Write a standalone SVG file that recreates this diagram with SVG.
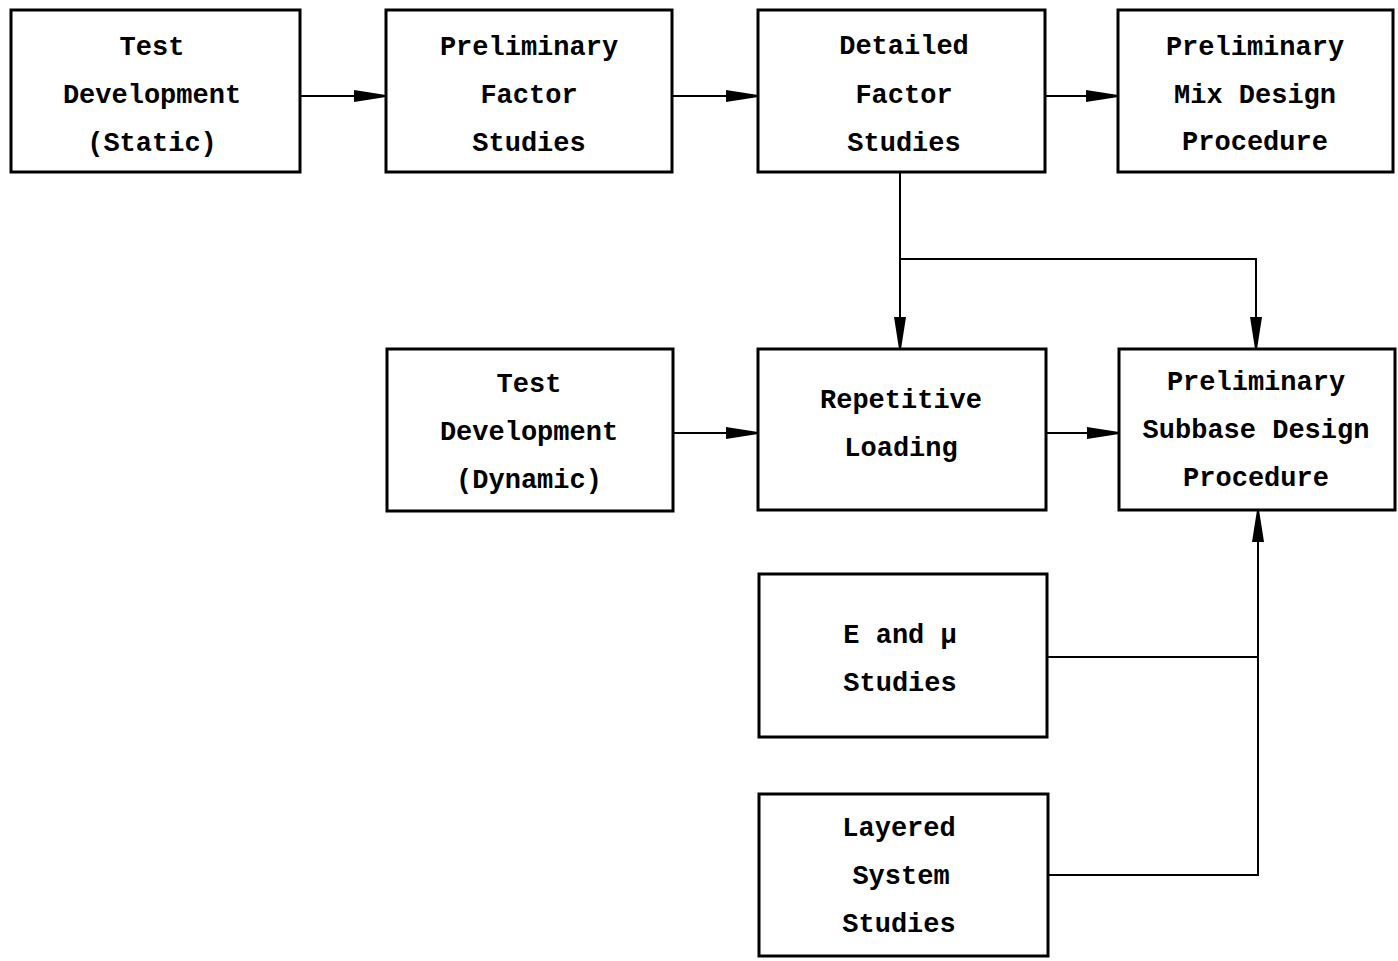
<svg xmlns="http://www.w3.org/2000/svg" width="1398" height="961" viewBox="0 0 1398 961">
<style>
.box{fill:#fff;stroke:#000;stroke-width:3}
.t{font-family:"Liberation Mono","Courier New",monospace;font-size:27px;font-weight:bold;fill:#000;text-anchor:middle}
.c{fill:none;stroke:#000;stroke-width:2}
</style>
<defs>
<marker id="ah" markerWidth="32" markerHeight="14" refX="32" refY="7" orient="auto" markerUnits="userSpaceOnUse">
<path d="M0,1 L32,6 L32,8 L0,13 Z" fill="#000"/>
</marker>
</defs>
<g id="connectors">
<line class="c" x1="300" y1="96" x2="386" y2="96" marker-end="url(#ah)"/>
<line class="c" x1="672" y1="96" x2="758" y2="96" marker-end="url(#ah)"/>
<line class="c" x1="1045" y1="96" x2="1118" y2="96" marker-end="url(#ah)"/>
<line class="c" x1="673" y1="433" x2="758" y2="433" marker-end="url(#ah)"/>
<line class="c" x1="1046" y1="433" x2="1119" y2="433" marker-end="url(#ah)"/>
<line class="c" x1="900" y1="172" x2="900" y2="349" marker-end="url(#ah)"/>
<polyline class="c" points="900,259 1256,259 1256,349" marker-end="url(#ah)"/>
<line class="c" x1="1047" y1="657" x2="1258" y2="657"/>
<polyline class="c" points="1048,875 1258,875 1258,510" marker-end="url(#ah)"/>
</g>
<g id="n1"><rect class="box" x="11" y="10" width="289" height="162"/>
<text class="t" x="152" y="55">Test</text><text class="t" x="152" y="103">Development</text><text class="t" x="152" y="151">(Static)</text></g>
<g id="n2"><rect class="box" x="386" y="10" width="286" height="162"/>
<text class="t" x="529" y="55">Preliminary</text><text class="t" x="529" y="103">Factor</text><text class="t" x="529" y="151">Studies</text></g>
<g id="n3"><rect class="box" x="758" y="10" width="287" height="162"/>
<text class="t" x="904" y="54">Detailed</text><text class="t" x="904" y="103">Factor</text><text class="t" x="904" y="151">Studies</text></g>
<g id="n4"><rect class="box" x="1118" y="10" width="275" height="162"/>
<text class="t" x="1255" y="55">Preliminary</text><text class="t" x="1255" y="103">Mix Design</text><text class="t" x="1255" y="150">Procedure</text></g>
<g id="n5"><rect class="box" x="387" y="349" width="286" height="162"/>
<text class="t" x="529" y="392">Test</text><text class="t" x="529" y="440">Development</text><text class="t" x="529" y="488">(Dynamic)</text></g>
<g id="n6"><rect class="box" x="758" y="349" width="288" height="161"/>
<text class="t" x="901" y="408">Repetitive</text><text class="t" x="901" y="456">Loading</text></g>
<g id="n7"><rect class="box" x="1119" y="349" width="276" height="161"/>
<text class="t" x="1256" y="390">Preliminary</text><text class="t" x="1256" y="438">Subbase Design</text><text class="t" x="1256" y="486">Procedure</text></g>
<g id="n8"><rect class="box" x="759" y="574" width="288" height="163"/>
<text class="t" x="900" y="643">E and μ</text><text class="t" x="900" y="691">Studies</text></g>
<g id="n9"><rect class="box" x="759" y="794" width="289" height="162"/>
<text class="t" x="899" y="836">Layered</text><text class="t" x="901" y="884">System</text><text class="t" x="899" y="932">Studies</text></g>
</svg>
